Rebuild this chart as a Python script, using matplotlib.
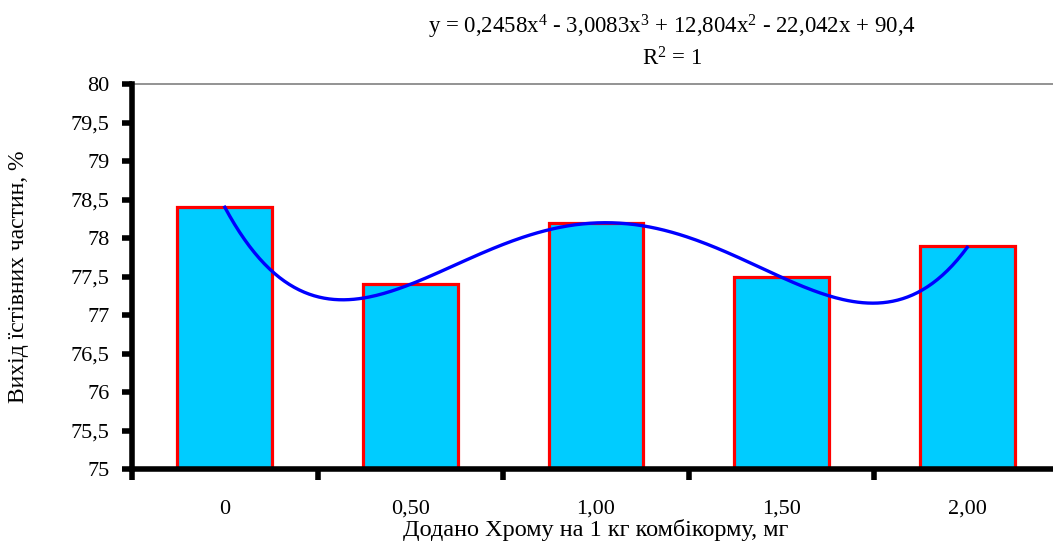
import numpy as np
import matplotlib
matplotlib.use("Agg")
import matplotlib.pyplot as plt

categories = ["0", "0,50", "1,00", "1,50", "2,00"]
values = [78.4, 77.4, 78.2, 77.5, 77.9]
trend_coefs = [0.2458, -3.0083, 12.804, -22.042, 90.4]  # x^4 .. x^0, x = 1..5
y_ticks = [75, 75.5, 76, 76.5, 77, 77.5, 78, 78.5, 79, 79.5, 80]
y_tick_labels = ["75", "75,5", "76", "76,5", "77", "77,5", "78", "78,5", "79", "79,5", "80"]

plt.rcParams['font.family'] = ['Liberation Serif', 'DejaVu Serif']
plt.rcParams['mathtext.fontset'] = 'custom'
plt.rcParams['mathtext.rm'] = 'Liberation Serif'
plt.rcParams['mathtext.it'] = 'Liberation Serif'

W, H = 1053, 545
fig = plt.figure(figsize=(W / 100, H / 100), dpi=100)
left, right, top, bottom = 132, 1060, 84, 469
ax = fig.add_axes([left / W, 1 - bottom / H, (right - left) / W, (bottom - top) / H])

x = np.arange(len(categories))
ax.bar(x, values, width=0.51, bottom=0, color="#00CCFF", edgecolor="#FF0000",
       linewidth=2.3, zorder=2)

xs = np.linspace(0, len(categories) - 1, 300)
ys = np.polyval(trend_coefs, xs + 1)
ax.plot(xs, ys, color="#0000FF", linewidth=2.4, zorder=3)

ax.set_xlim(-0.5, len(categories) - 0.5)
ax.set_ylim(75, 80)
ax.set_yticks(y_ticks)
ax.set_yticklabels(y_tick_labels, fontsize=16)
ax.set_xticks(x)
ax.set_xticklabels(categories, fontsize=16)
ax.tick_params(axis='x', length=0, pad=22)
ax.set_xticks(np.arange(-0.5, len(categories) - 0.4, 1.0), minor=True)
ax.tick_params(axis='x', which='minor', length=8, width=4, direction='out', color='black')
ax.tick_params(axis='y', length=7, width=4, direction='out', color='black', pad=9)

for s in ['left', 'bottom']:
    ax.spines[s].set_linewidth(4)
    ax.spines[s].set_color('black')
    ax.spines[s].set_zorder(4)
ax.spines['top'].set_color('#808080')
ax.spines['top'].set_linewidth(1.2)
ax.spines['right'].set_visible(False)

ax.set_xlabel("Додано Хрому на 1 кг комбікорму, мг", fontsize=17.5, labelpad=0)
ax.set_ylabel("Вихід їстівних частин, %", fontsize=17, va='center')
ax.yaxis.set_label_coords((19 - left) / (right - left), 0.5)

fig.text(672 / W, 1 - 27 / H,
         r"y = 0,2458x$^{4}$ - 3,0083x$^{3}$ + 12,804x$^{2}$ - 22,042x + 90,4",
         ha='center', va='center', fontsize=16.5)
fig.text(672 / W, 1 - 59 / H, r"R$^{2}$ = 1", ha='center', va='center', fontsize=16.5)

fig.savefig("out.png", dpi=100)
